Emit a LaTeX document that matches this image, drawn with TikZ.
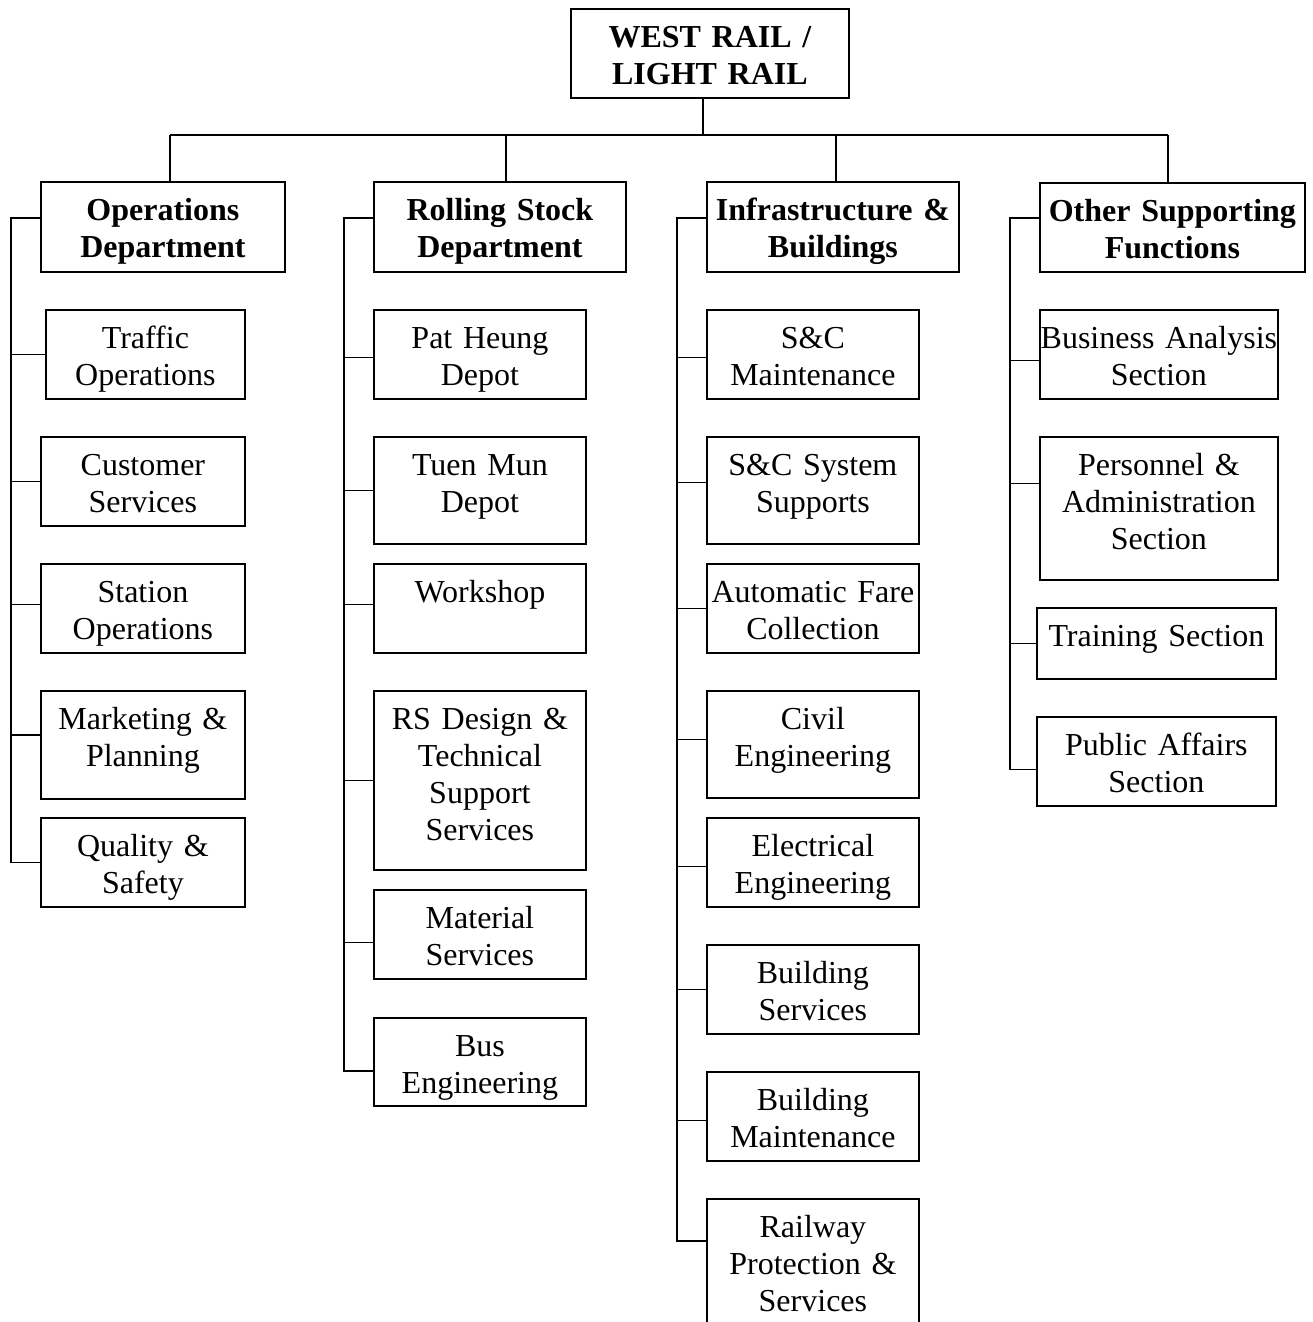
\documentclass[tikz,border=0pt]{standalone}
\usepackage{fontspec}
\setmainfont{Liberation Serif}
\tikzset{
    unitbox/.style n args={2}{draw,line width=1.8pt,inner sep=0pt,anchor=north west,align=center,
        text width=#1pt,text height=39pt,text depth=#2pt,font=\fontsize{32}{37}\selectfont},
    headbox/.style n args={2}{unitbox={#1}{#2},font=\fontsize{32}{37}\selectfont\bfseries},
    link/.style={line width=1.8pt},
}

\begin{document}
\begin{tikzpicture}[x=1pt,y=-1pt]
  \useasboundingbox (0,0) rectangle (1312,1322);
  \node[headbox={278}{50}] (top) at (570,8) {WEST RAIL /\\LIGHT RAIL};
  \node[headbox={244}{51}] (ops) at (40,181) {Operations\\Department};
  \node[headbox={252}{51}] (roll) at (373,181) {Rolling Stock\\Department};
  \node[headbox={252}{51}] (infra) at (706,181) {Infrastructure \&\\Buildings};
  \node[headbox={265}{50}] (other) at (1039,182) {Other Supporting\\Functions};
  % operations
  \node[unitbox={199}{50}] (traffic) at (45,309) {Traffic\\Operations};
  \node[unitbox={204}{50}] (customer) at (40,436) {Customer\\Services};
  \node[unitbox={204}{50}] (station) at (40,563) {Station\\Operations};
  \node[unitbox={204}{69}] (marketing) at (40,690) {Marketing \&\\Planning};
  \node[unitbox={204}{50}] (quality) at (40,817) {Quality \&\\Safety};
  % rolling stock
  \node[unitbox={212}{50}] (patheung) at (373,309) {Pat Heung\\Depot};
  \node[unitbox={212}{68}] (tuenmun) at (373,436) {Tuen Mun\\Depot};
  \node[unitbox={212}{50}] (workshop) at (373,563) {Workshop};
  \node[unitbox={212}{140}] (rsdesign) at (373,690) {RS Design \&\\Technical\\Support\\Services};
  \node[unitbox={212}{50}] (material) at (373,889) {Material\\Services};
  \node[unitbox={212}{49}] (buseng) at (373,1017) {Bus\\Engineering};
  % infrastructure
  \node[unitbox={212}{50}] (scmaint) at (706,309) {S\&C\\Maintenance};
  \node[unitbox={212}{68}] (scsys) at (706,436) {S\&C System\\Supports};
  \node[unitbox={212}{50}] (afc) at (706,563) {Automatic Fare\\Collection};
  \node[unitbox={212}{68}] (civil) at (706,690) {Civil\\Engineering};
  \node[unitbox={212}{50}] (electrical) at (706,817) {Electrical\\Engineering};
  \node[unitbox={212}{50}] (bldgserv) at (706,944) {Building\\Services};
  \node[unitbox={212}{50}] (bldgmaint) at (706,1071) {Building\\Maintenance};
  \node[unitbox={212}{104}] (railprot) at (706,1198) {Railway\\Protection \&\\Services};
  % other supporting
  \node[unitbox={238}{50}] (business) at (1039,309) {Business Analysis\\Section};
  \node[unitbox={238}{104}] (personnel) at (1039,436) {Personnel \&\\Administration\\Section};
  \node[unitbox={239}{32}] (training) at (1036,607) {Training Section};
  \node[unitbox={239}{50}] (publicaff) at (1036,716) {Public Affairs\\Section};
  % top level links
  \coordinate (topJoin) at (703,135);
  \coordinate (barL) at (170,135);
  \coordinate (barR) at (1168,135);
  \coordinate (rollJoin) at (506,135);
  \coordinate (infraJoin) at (836,135);
  \draw[link] (barL) -- (barR);
  \draw[link] (topJoin |- top.south) -- (topJoin);
  \draw[link] (barL) -- (barL |- ops.north);
  \draw[link] (rollJoin) -- (rollJoin |- roll.north);
  \draw[link] (infraJoin) -- (infraJoin |- infra.north);
  \draw[link] (barR) -- (barR |- other.north);
  % column trunks
  \coordinate (opsLine) at (11,218);
  \coordinate (rollLine) at (344,218);
  \coordinate (infraLine) at (677,218);
  \coordinate (otherLine) at (1010,218);
  \draw[link] (ops.west |- opsLine) -- (opsLine) |- (quality.west);
  \draw[link] (traffic.west) -- (traffic.west -| opsLine);
  \draw[link] (customer.west) -- (customer.west -| opsLine);
  \draw[link] ([yshift=4pt]station.west) -- ([yshift=4pt]station.west -| opsLine);
  \draw[link] ([yshift=10pt]marketing.west) -- ([yshift=10pt]marketing.west -| opsLine);
  \draw[link] (roll.west |- rollLine) -- (rollLine) |- ([yshift=-9pt]buseng.west);
  \draw[link] ([yshift=-3pt]patheung.west) -- ([yshift=-3pt]patheung.west -| rollLine);
  \draw[link] (tuenmun.west) -- (tuenmun.west -| rollLine);
  \draw[link] ([yshift=4pt]workshop.west) -- ([yshift=4pt]workshop.west -| rollLine);
  \draw[link] (rsdesign.west) -- (rsdesign.west -| rollLine);
  \draw[link] ([yshift=-8pt]material.west) -- ([yshift=-8pt]material.west -| rollLine);
  \draw[link] (infra.west |- infraLine) -- (infraLine) |- ([yshift=-43pt]railprot.north west);
  \draw[link] ([yshift=-3pt]scmaint.west) -- ([yshift=-3pt]scmaint.west -| infraLine);
  \draw[link] ([yshift=8pt]scsys.west) -- ([yshift=8pt]scsys.west -| infraLine);
  \draw[link] (afc.west) -- (afc.west -| infraLine);
  \draw[link] ([yshift=5pt]civil.west) -- ([yshift=5pt]civil.west -| infraLine);
  \draw[link] ([yshift=-4pt]electrical.west) -- ([yshift=-4pt]electrical.west -| infraLine);
  \draw[link] (bldgserv.west) -- (bldgserv.west -| infraLine);
  \draw[link] ([yshift=-4pt]bldgmaint.west) -- ([yshift=-4pt]bldgmaint.west -| infraLine);
  \draw[link] (other.west |- otherLine) -- (otherLine) |- ([yshift=-8pt]publicaff.west);
  \draw[link] ([yshift=-6pt]business.west) -- ([yshift=-6pt]business.west -| otherLine);
  \draw[link] ([yshift=25pt]personnel.west) -- ([yshift=25pt]personnel.west -| otherLine);
  \draw[link] (training.west) -- (training.west -| otherLine);
\end{tikzpicture}
\end{document}
